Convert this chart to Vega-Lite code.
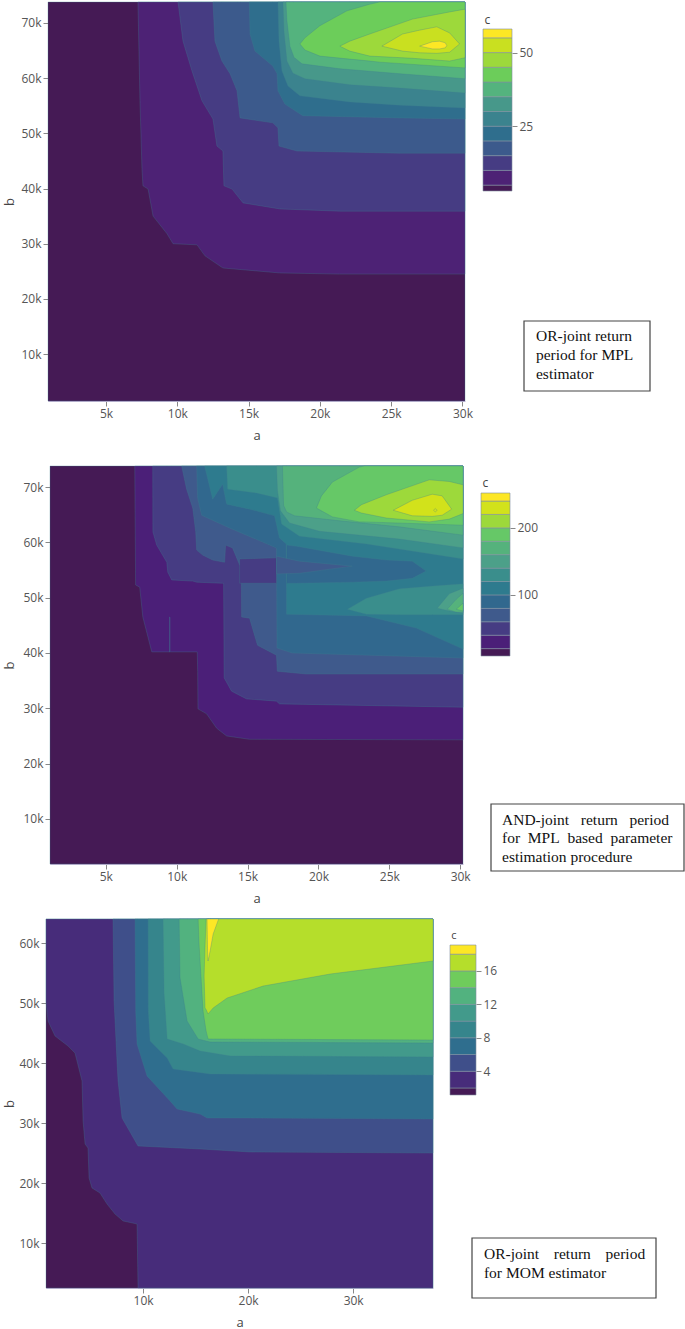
{"$schema":"https://vega.github.io/schema/vega-lite/v6.json","padding":{"left":3,"top":0,"right":0,"bottom":0},"background":"white","config":{"view":{"stroke":null},"axis":{"grid":false,"labelFont":"Open Sans","labelFontSize":12,"labelColor":"#555","titleFont":"Open Sans","titleFontSize":13,"titleFontWeight":"normal","titleColor":"#444","tickColor":"#888","tickSize":5,"domainColor":"#c4b2d4","format":"~s"}},
"datasets":{
"p1":[
{"l":0,"a":800,"b":1000,"t":74900},{"l":0,"a":30320,"b":1000,"t":74900},
{"l":5,"a":7240,"b":74900,"t":74900},{"l":5,"a":7380,"b":55900,"t":74900},{"l":5,"a":7520,"b":43700,"t":74900},{"l":5,"a":7590,"b":40500,"t":74900},{"l":5,"a":7950,"b":39900,"t":74900},{"l":5,"a":8300,"b":35000,"t":74900},{"l":5,"a":9280,"b":31800,"t":74900},{"l":5,"a":9700,"b":30000,"t":74900},{"l":5,"a":11380,"b":29800,"t":74900},{"l":5,"a":11940,"b":27800,"t":74900},{"l":5,"a":13200,"b":25600,"t":74900},{"l":5,"a":17200,"b":24700,"t":74900},{"l":5,"a":21410,"b":24500,"t":74900},{"l":5,"a":30320,"b":24500,"t":74900},
{"l":10,"a":10050,"b":74900,"t":74900},{"l":10,"a":10400,"b":66700,"t":74900},{"l":10,"a":11030,"b":61300,"t":74900},{"l":10,"a":11730,"b":55900,"t":74900},{"l":10,"a":12500,"b":52600,"t":74900},{"l":10,"a":12780,"b":47700,"t":74900},{"l":10,"a":13200,"b":46800,"t":74900},{"l":10,"a":13270,"b":40500,"t":74900},{"l":10,"a":13840,"b":39900,"t":74900},{"l":10,"a":14610,"b":37400,"t":74900},{"l":10,"a":17200,"b":36300,"t":74900},{"l":10,"a":21410,"b":35900,"t":74900},{"l":10,"a":30320,"b":35900,"t":74900},
{"l":15,"a":12500,"b":74900,"t":74900},{"l":15,"a":12640,"b":66700,"t":74900},{"l":15,"a":13130,"b":63100,"t":74900},{"l":15,"a":13700,"b":60800,"t":74900},{"l":15,"a":14190,"b":57700,"t":74900},{"l":15,"a":14400,"b":52800,"t":74900},{"l":15,"a":16700,"b":51900,"t":74900},{"l":15,"a":17060,"b":51000,"t":74900},{"l":15,"a":17130,"b":47700,"t":74900},{"l":15,"a":18390,"b":46800,"t":74900},{"l":15,"a":25620,"b":46400,"t":74900},{"l":15,"a":30320,"b":46400,"t":74900},
{"l":20,"a":15050,"b":74900,"t":74900},{"l":20,"a":15100,"b":68000,"t":74900},{"l":20,"a":15450,"b":64900,"t":74900},{"l":20,"a":16700,"b":62200,"t":74900},{"l":20,"a":17000,"b":60800,"t":74900},{"l":20,"a":17060,"b":57700,"t":74900},{"l":20,"a":17550,"b":55300,"t":74900},{"l":20,"a":18800,"b":53200,"t":74900},{"l":20,"a":25620,"b":52800,"t":74900},{"l":20,"a":30320,"b":52600,"t":74900},
{"l":25,"a":17060,"b":74900,"t":74900},{"l":25,"a":17130,"b":66700,"t":74900},{"l":25,"a":17340,"b":61300,"t":74900},{"l":25,"a":17760,"b":58600,"t":74900},{"l":25,"a":18600,"b":56800,"t":74900},{"l":25,"a":22110,"b":55700,"t":74900},{"l":25,"a":25620,"b":55100,"t":74900},{"l":25,"a":30320,"b":54600,"t":74900},
{"l":30,"a":17410,"b":74900,"t":74900},{"l":30,"a":17480,"b":68550,"t":74900},{"l":30,"a":17690,"b":63100,"t":74900},{"l":30,"a":18110,"b":60900,"t":74900},{"l":30,"a":18950,"b":59900,"t":74900},{"l":30,"a":22110,"b":58800,"t":74900},{"l":30,"a":25620,"b":58200,"t":74900},{"l":30,"a":30320,"b":57300,"t":74900},
{"l":35,"a":17620,"b":74900,"t":74900},{"l":35,"a":17690,"b":70400,"t":74900},{"l":35,"a":17900,"b":65800,"t":74900},{"l":35,"a":18180,"b":63800,"t":74900},{"l":35,"a":18740,"b":62600,"t":74900},{"l":35,"a":21410,"b":61700,"t":74900},{"l":35,"a":25620,"b":60800,"t":74900},{"l":35,"a":30320,"b":59900,"t":74900},
{"l":40,"a":18600,"b":66200,"t":66200},{"l":40,"a":18950,"b":65100,"t":67300},{"l":40,"a":20000,"b":64000,"t":69500},{"l":40,"a":21900,"b":63500,"t":72200},{"l":40,"a":23500,"b":63100,"t":73400},{"l":40,"a":24200,"b":62900,"t":74900},{"l":40,"a":30320,"b":61850,"t":74900},
{"l":45,"a":21400,"b":65800,"t":65800},{"l":45,"a":22100,"b":64900,"t":66700},{"l":45,"a":23500,"b":64000,"t":68000},{"l":45,"a":26500,"b":63600,"t":70700},{"l":45,"a":29100,"b":63100,"t":72000},{"l":45,"a":30320,"b":63700,"t":72500},
{"l":50,"a":24350,"b":65800,"t":65800},{"l":50,"a":25800,"b":64900,"t":68000},{"l":50,"a":27000,"b":64600,"t":68700},{"l":50,"a":28200,"b":64500,"t":69300},{"l":50,"a":29100,"b":64700,"t":68200},{"l":50,"a":29800,"b":66200,"t":66200},
{"l":55,"a":27000,"b":65800,"t":65800},{"l":55,"a":27900,"b":65300,"t":66600},{"l":55,"a":28400,"b":65300,"t":66700},{"l":55,"a":28800,"b":65500,"t":66400},{"l":55,"a":28900,"b":65900,"t":65900}
],
"p2":[
{"l":0,"s":"e","a":800,"b":1000,"t":74700},{"l":0,"s":"e","a":30420,"b":1000,"t":74700},
{"l":20,"s":"e","a":7040,"b":74700,"t":74700},{"l":20,"s":"e","a":7100,"b":52300,"t":74700},{"l":20,"s":"e","a":7390,"b":51900,"t":74700},{"l":20,"s":"e","a":7610,"b":46500,"t":74700},{"l":20,"s":"e","a":8240,"b":40200,"t":74700},{"l":20,"s":"e","a":11450,"b":40200,"t":74700},{"l":20,"s":"e","a":11480,"b":36700,"t":74700},{"l":20,"s":"e","a":11500,"b":29900,"t":74700},{"l":20,"s":"e","a":12110,"b":29000,"t":74700},{"l":20,"s":"e","a":12820,"b":26400,"t":74700},{"l":20,"s":"e","a":13520,"b":25000,"t":74700},{"l":20,"s":"e","a":15140,"b":24400,"t":74700},{"l":20,"s":"e","a":30420,"b":24300,"t":74700},
{"l":40,"s":"line","a":9490,"b":40200,"t":46500},{"l":40,"s":"line","a":9530,"b":40200,"t":46500},
{"l":40,"s":"e","a":8310,"b":74700,"t":74700},{"l":40,"s":"e","a":8320,"b":61900,"t":74700},{"l":40,"s":"e","a":8590,"b":59500,"t":74700},{"l":40,"s":"e","a":9300,"b":56400,"t":74700},{"l":40,"s":"e","a":9370,"b":54600,"t":74700},{"l":40,"s":"e","a":9650,"b":53200,"t":74700},{"l":40,"s":"e","a":11130,"b":53000,"t":74700},{"l":40,"s":"e","a":11410,"b":52800,"t":74700},{"l":40,"s":"e","a":13240,"b":52600,"t":74700},{"l":40,"s":"e","a":13310,"b":52600,"t":74700},{"l":40,"s":"e","a":13350,"b":35500,"t":74700},{"l":40,"s":"e","a":13870,"b":33100,"t":74700},{"l":40,"s":"e","a":14930,"b":31700,"t":74700},{"l":40,"s":"e","a":17040,"b":31300,"t":74700},{"l":40,"s":"e","a":17250,"b":30800,"t":74700},{"l":40,"s":"e","a":30420,"b":30200,"t":74700},
{"l":60,"s":"e","a":10350,"b":74700,"t":74700},{"l":60,"s":"e","a":10700,"b":69600,"t":74700},{"l":60,"s":"e","a":11130,"b":66200,"t":74700},{"l":60,"s":"e","a":11340,"b":61900,"t":74700},{"l":60,"s":"e","a":11410,"b":58600,"t":74700},{"l":60,"s":"e","a":11830,"b":57700,"t":74700},{"l":60,"s":"e","a":12540,"b":56800,"t":74700},{"l":60,"s":"e","a":13380,"b":56400,"t":74700},{"l":60,"s":"e","a":13450,"b":59500,"t":74700},{"l":60,"s":"e","a":13940,"b":59000,"t":74700},{"l":60,"s":"e","a":14440,"b":55900,"t":74700},{"l":60,"s":"e","a":14560,"b":55900,"t":74700},{"l":60,"s":"e","a":14580,"b":46500,"t":74700},{"l":60,"s":"e","a":15140,"b":46300,"t":74700},{"l":60,"s":"e","a":15700,"b":41400,"t":74700},{"l":60,"s":"e","a":17040,"b":39600,"t":74700},{"l":60,"s":"e","a":17100,"b":36700,"t":74700},{"l":60,"s":"e","a":19150,"b":36200,"t":74700},{"l":60,"s":"e","a":30420,"b":36200,"t":74700},
{"l":80,"s":"e","a":11410,"b":74700,"t":74700},{"l":80,"s":"e","a":11480,"b":68000,"t":74700},{"l":80,"s":"e","a":11760,"b":64900,"t":74700},{"l":80,"s":"e","a":13730,"b":62600,"t":74700},{"l":80,"s":"e","a":17040,"b":59000,"t":74700},{"l":80,"s":"e","a":17080,"b":40900,"t":74700},{"l":80,"s":"e","a":18170,"b":40000,"t":74700},{"l":80,"s":"e","a":30420,"b":39100,"t":74700},
{"l":40,"s":"v60","a":14440,"b":52600,"t":57000},{"l":40,"s":"v60","a":17040,"b":52600,"t":57200},
{"l":100,"s":"e","a":11970,"b":74700,"t":74700},{"l":100,"s":"e","a":12540,"b":67800,"t":74700},{"l":100,"s":"e","a":13240,"b":70500,"t":74700},{"l":100,"s":"e","a":13520,"b":66900,"t":74700},{"l":100,"s":"e","a":15140,"b":66000,"t":74700},{"l":100,"s":"e","a":16900,"b":64800,"t":74700},{"l":100,"s":"e","a":17250,"b":60800,"t":74700},{"l":100,"s":"e","a":17730,"b":59700,"t":74700},{"l":100,"s":"e","a":17750,"b":47000,"t":74700},{"l":100,"s":"e","a":23380,"b":46700,"t":74700},{"l":100,"s":"e","a":26900,"b":44500,"t":74700},{"l":100,"s":"e","a":30420,"b":40700,"t":74700},
{"l":80,"s":"v100","a":17750,"b":52600,"t":59500},{"l":80,"s":"v100","a":18450,"b":52600,"t":59300},{"l":80,"s":"v100","a":22390,"b":52800,"t":57500},{"l":80,"s":"v100","a":24790,"b":53000,"t":56800},{"l":80,"s":"v100","a":26620,"b":53500,"t":56600},{"l":80,"s":"v100","a":27600,"b":54800,"t":54800},
{"l":60,"s":"v80","a":17040,"b":54300,"t":57500},{"l":60,"s":"v80","a":18660,"b":54400,"t":56600},{"l":60,"s":"v80","a":22390,"b":55700,"t":55700},
{"l":120,"s":"e","a":13520,"b":74700,"t":74700},{"l":120,"s":"e","a":13590,"b":69600,"t":74700},{"l":120,"s":"e","a":15630,"b":68900,"t":74700},{"l":120,"s":"e","a":17110,"b":68000,"t":74700},{"l":120,"s":"e","a":17390,"b":63300,"t":74700},{"l":120,"s":"e","a":18660,"b":61100,"t":74700},{"l":120,"s":"e","a":23380,"b":59700,"t":74700},{"l":120,"s":"e","a":30420,"b":57000,"t":74700},
{"l":140,"s":"e","a":17040,"b":74700,"t":74700},{"l":140,"s":"e","a":17110,"b":69300,"t":74700},{"l":140,"s":"e","a":17320,"b":65700,"t":74700},{"l":140,"s":"e","a":17960,"b":63500,"t":74700},{"l":140,"s":"e","a":20070,"b":62000,"t":74700},{"l":140,"s":"e","a":25700,"b":60600,"t":74700},{"l":140,"s":"e","a":30420,"b":59000,"t":74700},
{"l":160,"s":"e","a":17460,"b":74700,"t":74700},{"l":160,"s":"e","a":17540,"b":66700,"t":74700},{"l":160,"s":"e","a":17750,"b":65500,"t":74700},{"l":160,"s":"e","a":18310,"b":64800,"t":74700},{"l":160,"s":"e","a":21480,"b":63900,"t":74700},{"l":160,"s":"e","a":25700,"b":62800,"t":74700},{"l":160,"s":"e","a":30420,"b":61300,"t":74700},
{"l":120,"s":"b","a":22040,"b":47900,"t":47900},{"l":120,"s":"b","a":23380,"b":47000,"t":49900},{"l":120,"s":"b","a":25700,"b":46900,"t":51600},{"l":120,"s":"b","a":28030,"b":46900,"t":52100},{"l":120,"s":"b","a":30420,"b":46900,"t":52500},
{"l":140,"s":"b","a":28380,"b":48100,"t":48100},{"l":140,"s":"b","a":29230,"b":47600,"t":50700},{"l":140,"s":"b","a":30420,"b":47200,"t":51700},
{"l":160,"s":"b","a":29080,"b":47900,"t":47900},{"l":160,"s":"b","a":29720,"b":47400,"t":49700},{"l":160,"s":"b","a":30420,"b":47400,"t":50800},
{"l":180,"s":"b","a":29720,"b":47900,"t":47900},{"l":180,"s":"b","a":30420,"b":47600,"t":49000},
{"l":180,"s":"e","a":19860,"b":66200,"t":66200},{"l":180,"s":"e","a":20210,"b":65700,"t":68400},{"l":180,"s":"e","a":20990,"b":64600,"t":70900},{"l":180,"s":"e","a":22890,"b":63700,"t":73600},{"l":180,"s":"e","a":23240,"b":63700,"t":74700},{"l":180,"s":"e","a":30420,"b":63100,"t":74700},
{"l":200,"s":"e","a":22540,"b":65800,"t":65800},{"l":200,"s":"e","a":23030,"b":65300,"t":66800},{"l":200,"s":"e","a":24790,"b":64400,"t":68600},{"l":200,"s":"e","a":27820,"b":63700,"t":71300},{"l":200,"s":"e","a":29230,"b":64200,"t":71000},{"l":200,"s":"e","a":30420,"b":65200,"t":70400},
{"l":220,"s":"e","a":25280,"b":65800,"t":65800},{"l":220,"s":"e","a":26620,"b":64800,"t":67600},{"l":220,"s":"e","a":28030,"b":64700,"t":68700},{"l":220,"s":"e","a":28730,"b":64900,"t":68400},{"l":220,"s":"e","a":29400,"b":66000,"t":66000},
{"l":220,"s":"ring","a":28120,"b":65800,"t":65800},{"l":220,"s":"ring","a":28240,"b":65500,"t":66100},{"l":220,"s":"ring","a":28380,"b":65800,"t":65800}
],
"p3":[
{"l":0,"a":500,"b":2000,"t":64670},{"l":0,"a":38000,"b":2000,"t":64670},
{"l":2,"a":570,"b":52000,"t":64670},{"l":2,"a":760,"b":50330,"t":64670},{"l":2,"a":950,"b":47000,"t":64670},{"l":2,"a":1620,"b":44500,"t":64670},{"l":2,"a":2860,"b":42830,"t":64670},{"l":2,"a":3520,"b":41670,"t":64670},{"l":2,"a":4190,"b":37000,"t":64670},{"l":2,"a":4290,"b":30330,"t":64670},{"l":2,"a":4480,"b":26500,"t":64670},{"l":2,"a":4760,"b":25830,"t":64670},{"l":2,"a":4860,"b":20830,"t":64670},{"l":2,"a":5140,"b":19170,"t":64670},{"l":2,"a":5900,"b":18330,"t":64670},{"l":2,"a":6570,"b":16500,"t":64670},{"l":2,"a":7330,"b":14830,"t":64670},{"l":2,"a":8100,"b":13670,"t":64670},{"l":2,"a":9430,"b":13170,"t":64670},{"l":2,"a":9520,"b":2000,"t":64670},{"l":2,"a":38000,"b":2000,"t":64670},
{"l":4,"a":7140,"b":64670,"t":64670},{"l":4,"a":7240,"b":50330,"t":64670},{"l":4,"a":7520,"b":40330,"t":64670},{"l":4,"a":7620,"b":37000,"t":64670},{"l":4,"a":8000,"b":30830,"t":64670},{"l":4,"a":9520,"b":26170,"t":64670},{"l":4,"a":15430,"b":25670,"t":64670},{"l":4,"a":20190,"b":25170,"t":64670},{"l":4,"a":38000,"b":25000,"t":64670},
{"l":6,"a":9240,"b":64670,"t":64670},{"l":6,"a":9300,"b":48670,"t":64670},{"l":6,"a":9430,"b":43170,"t":64670},{"l":6,"a":10380,"b":37830,"t":64670},{"l":6,"a":12570,"b":33670,"t":64670},{"l":6,"a":13240,"b":32330,"t":64670},{"l":6,"a":15430,"b":31500,"t":64670},{"l":6,"a":16100,"b":30830,"t":64670},{"l":6,"a":20190,"b":30830,"t":64670},{"l":6,"a":38000,"b":30670,"t":64670},
{"l":8,"a":10480,"b":64670,"t":64670},{"l":8,"a":10500,"b":48670,"t":64670},{"l":8,"a":10670,"b":43670,"t":64670},{"l":8,"a":11330,"b":42500,"t":64670},{"l":8,"a":12290,"b":40830,"t":64670},{"l":8,"a":12860,"b":39000,"t":64670},{"l":8,"a":16380,"b":38170,"t":64670},{"l":8,"a":38000,"b":38000,"t":64670},
{"l":10,"a":11900,"b":64670,"t":64670},{"l":10,"a":12000,"b":51500,"t":64670},{"l":10,"a":12290,"b":44000,"t":64670},{"l":10,"a":13810,"b":43170,"t":64670},{"l":10,"a":15430,"b":42000,"t":64670},{"l":10,"a":18290,"b":41170,"t":64670},{"l":10,"a":38000,"b":41000,"t":64670},
{"l":12,"a":13430,"b":64670,"t":64670},{"l":12,"a":13520,"b":54170,"t":64670},{"l":12,"a":14190,"b":47000,"t":64670},{"l":12,"a":15240,"b":44000,"t":64670},{"l":12,"a":16380,"b":43500,"t":64670},{"l":12,"a":38000,"b":43330,"t":64670},
{"l":14,"a":15240,"b":64670,"t":64670},{"l":14,"a":15330,"b":59830,"t":64670},{"l":14,"a":15710,"b":48670,"t":64670},{"l":14,"a":16000,"b":45330,"t":64670},{"l":14,"a":16190,"b":44000,"t":64670},{"l":14,"a":38000,"b":43830,"t":64670},
{"l":16,"a":15810,"b":54500,"t":54500},{"l":16,"a":15900,"b":49170,"t":59500},{"l":16,"a":16000,"b":48900,"t":64670},{"l":16,"a":16190,"b":48170,"t":64670},{"l":16,"a":16670,"b":49170,"t":64670},{"l":16,"a":18000,"b":50830,"t":64670},{"l":16,"a":21430,"b":52830,"t":64670},{"l":16,"a":27810,"b":54830,"t":64670},{"l":16,"a":38000,"b":57000,"t":64670},
{"l":18,"a":16090,"b":64670,"t":64670},{"l":18,"a":16140,"b":58670,"t":64670},{"l":18,"a":16190,"b":57000,"t":64670},{"l":18,"a":16380,"b":58670,"t":64670},{"l":18,"a":16670,"b":61500,"t":64670},{"l":18,"a":17190,"b":64670,"t":64670}
],
"bar1":[{"l":0,"c0":3,"c1":5},{"l":5,"c0":5,"c1":10},{"l":10,"c0":10,"c1":15},{"l":15,"c0":15,"c1":20},{"l":20,"c0":20,"c1":25},{"l":25,"c0":25,"c1":30},{"l":30,"c0":30,"c1":35},{"l":35,"c0":35,"c1":40},{"l":40,"c0":40,"c1":45},{"l":45,"c0":45,"c1":50},{"l":50,"c0":50,"c1":55},{"l":55,"c0":55,"c1":58}],
"bar2":[{"l":0,"c0":9,"c1":20},{"l":20,"c0":20,"c1":40},{"l":40,"c0":40,"c1":60},{"l":60,"c0":60,"c1":80},{"l":80,"c0":80,"c1":100},{"l":100,"c0":100,"c1":120},{"l":120,"c0":120,"c1":140},{"l":140,"c0":140,"c1":160},{"l":160,"c0":160,"c1":180},{"l":180,"c0":180,"c1":200},{"l":200,"c0":200,"c1":220},{"l":220,"c0":220,"c1":240},{"l":240,"c0":240,"c1":252}],
"bar3":[{"l":0,"c0":1.16,"c1":2},{"l":2,"c0":2,"c1":4},{"l":4,"c0":4,"c1":6},{"l":6,"c0":6,"c1":8},{"l":8,"c0":8,"c1":10},{"l":10,"c0":10,"c1":12},{"l":12,"c0":12,"c1":14},{"l":14,"c0":14,"c1":16},{"l":16,"c0":16,"c1":18},{"l":18,"c0":18,"c1":19.1}]
},
"resolve":{"scale":{"color":"independent"}},
"bounds":"flush","align":"none","columns":3,"spacing":{"row":55,"column":0},
"concat":[
{"width":404,"height":399,"data":{"name":"p1"},"mark":{"type":"area","orient":"vertical","stroke":"#3f7f90","strokeOpacity":0.3,"strokeWidth":1},
"encoding":{"x":{"field":"a","type":"quantitative","scale":{"domain":[930,30180],"range":[2,419],"clamp":true},"axis":{"values":[5000,10000,15000,20000,25000,30000],"title":"a","titlePadding":10}},
"y":{"field":"b","type":"quantitative","scale":{"domain":[1500,73800],"range":[399,0],"clamp":true},"axis":{"values":[10000,20000,30000,40000,50000,60000,70000],"title":"b","offset":-2,"titlePadding":4}},"y2":{"field":"t"},
"color":{"field":"l","type":"ordinal","legend":null,"scale":{"domain":[0,5,10,15,20,25,30,35,40,45,50,55],"range":["#451a55","#4d2275","#463c83","#3c5a8c","#2f6e8d","#3b838e","#47988a","#54b37e","#6ccd5a","#9dd93b","#c9e020","#fde725"]}}}},
{"width":22,"height":399,"layer":[
{"data":{"name":"bar1"},"mark":{"type":"rect","stroke":"#7f8f9f","strokeWidth":0.6},"encoding":{"x":{"datum":0,"type":"quantitative","scale":{"domain":[0,1],"range":[33,62]},"axis":null},"x2":{"datum":1},"y":{"field":"c0","type":"quantitative","scale":{"domain":[3,58],"range":[189,27]},"axis":{"values":[25,50],"title":null,"orient":"right","offset":40,"format":"d","domain":false}},"y2":{"field":"c1"},"color":{"field":"l","type":"ordinal","legend":null,"scale":{"domain":[0,5,10,15,20,25,30,35,40,45,50,55],"range":["#451a55","#4d2275","#463c83","#3c5a8c","#2f6e8d","#3b838e","#47988a","#54b37e","#6ccd5a","#9dd93b","#c9e020","#fde725"]}}}},
{"data":{"values":[{"t":"c"}]},"mark":{"type":"text","align":"left","baseline":"middle","font":"Open Sans","fontSize":12,"color":"#444"},"encoding":{"x":{"datum":0.05,"type":"quantitative","scale":{"domain":[0,1],"range":[33,62]}},"y":{"datum":61,"type":"quantitative","scale":{"domain":[3,58],"range":[189,27]}},"text":{"field":"t"}}}
]},
{"width":213,"height":399,"layer":[
{"data":{"values":[{"box":1}]},"mark":{"type":"rect","fill":"white","stroke":"#444","strokeWidth":1.2},"encoding":{"x":{"datum":0,"type":"quantitative","scale":{"domain":[0,100],"range":[52,178]},"axis":null},"x2":{"datum":100},"y":{"datum":-0.79,"type":"quantitative","scale":{"domain":[-0.79,2.89],"range":[319,389]},"axis":null},"y2":{"datum":2.89}}},
{"data":{"values":[{"t":"OR-joint return","n":0},{"t":"period for MPL","n":1},{"t":"estimator","n":2}]},"mark":{"type":"text","align":"left","baseline":"middle","font":"Liberation Serif","fontSize":15.5,"color":"#111"},"encoding":{"x":{"datum":9.5,"type":"quantitative","scale":{"domain":[0,100],"range":[52,178]}},"y":{"field":"n","type":"quantitative","scale":{"domain":[-0.79,2.89],"range":[319,389]}},"text":{"field":"t"}}}
]},
{"width":404,"height":408,"data":{"name":"p2"},"mark":{"type":"area","orient":"vertical","stroke":"#3f7f90","strokeOpacity":0.3,"strokeWidth":1},
"encoding":{"x":{"field":"a","type":"quantitative","scale":{"domain":[1060,30200],"range":[4,417],"clamp":true},"axis":{"values":[5000,10000,15000,20000,25000,30000],"title":"a","titlePadding":10}},
"y":{"field":"b","type":"quantitative","scale":{"domain":[1860,73800],"range":[408,10],"clamp":true},"axis":{"values":[10000,20000,30000,40000,50000,60000,70000],"title":"b","offset":-4,"titlePadding":6}},"y2":{"field":"t"},"detail":{"field":"s"},
"color":{"field":"l","type":"ordinal","legend":null,"scale":{"domain":[0,20,40,60,80,100,120,140,160,180,200,220,240],"range":["#451a55","#4b1f78","#463c83","#3f5a8c","#31688e","#2e7b8e","#3a8e8c","#4ca089","#55b27c","#66c867","#9dd93b","#d2e21b","#fde725"]}}}},
{"width":22,"height":408,"layer":[
{"data":{"name":"bar2"},"mark":{"type":"rect","stroke":"#7f8f9f","strokeWidth":0.6},"encoding":{"x":{"datum":0,"type":"quantitative","scale":{"domain":[0,1],"range":[31,60]},"axis":null},"x2":{"datum":1},"y":{"field":"c0","type":"quantitative","scale":{"domain":[9,252],"range":[200,37]},"axis":{"values":[100,200],"title":null,"orient":"right","offset":38,"format":"d","domain":false}},"y2":{"field":"c1"},"color":{"field":"l","type":"ordinal","legend":null,"scale":{"domain":[0,20,40,60,80,100,120,140,160,180,200,220,240],"range":["#451a55","#4b1f78","#463c83","#3f5a8c","#31688e","#2e7b8e","#3a8e8c","#4ca089","#55b27c","#66c867","#9dd93b","#d2e21b","#fde725"]}}}},
{"data":{"values":[{"t":"c"}]},"mark":{"type":"text","align":"left","baseline":"middle","font":"Open Sans","fontSize":12,"color":"#444"},"encoding":{"x":{"datum":0.05,"type":"quantitative","scale":{"domain":[0,1],"range":[31,60]}},"y":{"datum":267,"type":"quantitative","scale":{"domain":[9,252],"range":[200,37]}},"text":{"field":"t"}}}
]},
{"width":213,"height":408,"layer":[
{"data":{"values":[{"box":1}]},"mark":{"type":"rect","fill":"white","stroke":"#444","strokeWidth":1.2},"encoding":{"x":{"datum":0,"type":"quantitative","scale":{"domain":[0,100],"range":[19,212]},"axis":null},"x2":{"datum":100},"y":{"datum":-0.86,"type":"quantitative","scale":{"domain":[-0.86,2.76],"range":[348,415]},"axis":null},"y2":{"datum":2.76}}},
{"data":{"values":[{"t":"AND-joint\u00a0\u00a0\u00a0return\u00a0\u00a0\u00a0period","n":0},{"t":"for\u00a0\u00a0MPL\u00a0\u00a0based\u00a0\u00a0parameter","n":1},{"t":"estimation procedure","n":2}]},"mark":{"type":"text","align":"left","baseline":"middle","font":"Liberation Serif","fontSize":15.5,"color":"#111"},"encoding":{"x":{"datum":5.7,"type":"quantitative","scale":{"domain":[0,100],"range":[19,212]}},"y":{"field":"n","type":"quantitative","scale":{"domain":[-0.86,2.76],"range":[348,415]}},"text":{"field":"t"}}}
]},
{"width":404,"height":369,"data":{"name":"p3"},"mark":{"type":"area","orient":"vertical","stroke":"#3f7f90","strokeOpacity":0.3,"strokeWidth":1},
"encoding":{"x":{"field":"a","type":"quantitative","scale":{"domain":[760,37600],"range":[0,387],"clamp":true},"axis":{"values":[10000,20000,30000],"title":"a","titlePadding":10}},
"y":{"field":"b","type":"quantitative","scale":{"domain":[2500,64000],"range":[369,0],"clamp":true},"axis":{"values":[10000,20000,30000,40000,50000,60000],"title":"b","titlePadding":2}},"y2":{"field":"t"},
"color":{"field":"l","type":"ordinal","legend":null,"scale":{"domain":[0,2,4,6,8,10,12,14,16,18],"range":["#451a55","#472c7a","#3f4f8a","#2f6e8e","#36858c","#429a8b","#52b27f","#6fcc5c","#b5de2b","#fde725"]}}}},
{"width":22,"height":369,"layer":[
{"data":{"name":"bar3"},"mark":{"type":"rect","stroke":"#7f8f9f","strokeWidth":0.6},"encoding":{"x":{"datum":0,"type":"quantitative","scale":{"domain":[0,1],"range":[0,26]},"axis":null},"x2":{"datum":1},"y":{"field":"c0","type":"quantitative","scale":{"domain":[1.16,19.1],"range":[176,26]},"axis":{"values":[4,8,12,16],"title":null,"orient":"right","offset":4,"format":"d","domain":false}},"y2":{"field":"c1"},"color":{"field":"l","type":"ordinal","legend":null,"scale":{"domain":[0,2,4,6,8,10,12,14,16,18],"range":["#451a55","#472c7a","#3f4f8a","#2f6e8e","#36858c","#429a8b","#52b27f","#6fcc5c","#b5de2b","#fde725"]}}}},
{"data":{"values":[{"t":"c"}]},"mark":{"type":"text","align":"left","baseline":"middle","font":"Open Sans","fontSize":11,"color":"#444"},"encoding":{"x":{"datum":0.05,"type":"quantitative","scale":{"domain":[0,1],"range":[0,26]}},"y":{"datum":20.2,"type":"quantitative","scale":{"domain":[1.16,19.1],"range":[176,26]}},"text":{"field":"t"}}}
]},
{"width":213,"height":369,"layer":[
{"data":{"values":[{"box":1}]},"mark":{"type":"rect","fill":"white","stroke":"#444","strokeWidth":1.2},"encoding":{"x":{"datum":0,"type":"quantitative","scale":{"domain":[0,100],"range":[0,184]},"axis":null},"x2":{"datum":100},"y":{"datum":-0.84,"type":"quantitative","scale":{"domain":[-0.84,2.32],"range":[319,379]},"axis":null},"y2":{"datum":2.32}}},
{"data":{"values":[{"t":"OR-joint\u00a0\u00a0\u00a0\u2009return\u00a0\u00a0\u00a0\u2009period","n":0},{"t":"for MOM estimator","n":1}]},"mark":{"type":"text","align":"left","baseline":"middle","font":"Liberation Serif","fontSize":15.5,"color":"#111"},"encoding":{"x":{"datum":6.5,"type":"quantitative","scale":{"domain":[0,100],"range":[0,184]}},"y":{"field":"n","type":"quantitative","scale":{"domain":[-0.84,2.32],"range":[319,379]}},"text":{"field":"t"}}}
]}
]}
